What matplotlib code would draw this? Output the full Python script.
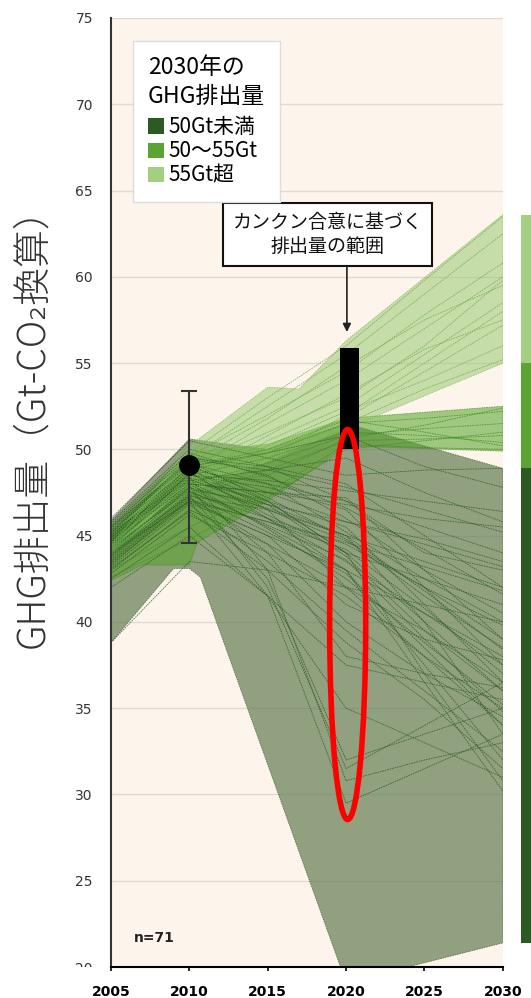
import matplotlib
matplotlib.use('Agg')
import matplotlib.pyplot as plt
from matplotlib.patches import Patch, Ellipse, Rectangle

plt.rcParams['font.family'] = ['Noto Sans CJK JP', 'DejaVu Sans']

# scenario years
years = [2005, 2010, 2015, 2020, 2025, 2030]

# scenarios with 2030 emissions below 50Gt
dark_lines = [
    [44.5, 48.0, 47.5, 46.8, 46.0, 45.5],
    [45.0, 48.5, 48.2, 47.6, 47.0, 46.4],
    [43.8, 47.5, 46.0, 44.5, 42.0, 39.8],
    [44.2, 47.8, 45.5, 43.0, 40.5, 38.0],
    [45.5, 49.2, 48.0, 45.2, 42.5, 40.0],
    [43.0, 46.5, 44.5, 42.0, 39.5, 36.5],
    [44.8, 48.8, 47.0, 44.0, 40.0, 36.0],
    [45.2, 49.5, 49.0, 48.0, 45.0, 42.0],
    [44.0, 47.0, 45.8, 44.6, 43.2, 41.8],
    [42.8, 46.2, 44.0, 41.5, 38.0, 35.0],
    [44.6, 48.3, 46.5, 44.7, 42.0, 39.0],
    [45.8, 50.0, 49.0, 47.0, 44.0, 43.0],
    [43.5, 47.2, 44.5, 40.0, 37.0, 34.5],
    [44.3, 48.6, 46.8, 45.0, 43.5, 42.0],
    [45.0, 49.0, 47.5, 45.8, 44.8, 43.5],
    [43.2, 46.8, 43.5, 39.5, 36.0, 32.5],
    [44.9, 48.1, 46.0, 43.5, 40.5, 37.5],
    [42.5, 45.5, 41.5, 37.5, 36.5, 35.5],
    [44.0, 47.6, 44.0, 38.0, 37.0, 36.2],
    [45.3, 48.9, 46.5, 42.0, 41.0, 40.0],
    [43.6, 47.3, 42.5, 32.0, 33.5, 35.0],
    [44.1, 47.9, 42.0, 31.5, 34.0, 36.5],
    [44.7, 48.4, 43.0, 30.8, 32.0, 33.0],
    [43.9, 47.0, 41.5, 29.5, 31.5, 33.5],
    [45.6, 49.6, 48.5, 46.0, 43.0, 40.5],
    [44.4, 48.2, 47.0, 45.5, 41.0, 36.5],
    [43.4, 46.9, 45.0, 43.0, 37.5, 32.0],
    [44.6, 48.7, 46.0, 43.0, 36.5, 30.2],
    [45.1, 49.4, 48.8, 47.8, 46.5, 45.2],
    [44.2, 47.7, 46.8, 45.8, 44.5, 43.2],
    [43.7, 47.4, 45.2, 42.8, 38.5, 34.0],
    [45.4, 49.1, 47.2, 44.8, 41.5, 38.5],
    [44.8, 48.5, 47.8, 46.5, 42.0, 37.5],
    [43.1, 46.4, 43.0, 38.8, 35.5, 31.5],
    [44.5, 48.0, 45.4, 42.5, 38.8, 35.2],
    [45.0, 48.8, 48.0, 47.0, 45.5, 44.0],
    [46.0, 50.5, 49.5, 48.5, 48.8, 48.9],
    [42.0, 45.0, 41.5, 35.0, 33.0, 31.0],
    [44.3, 47.6, 45.6, 43.6, 39.0, 34.8],
    [43.3, 47.1, 45.8, 44.2, 40.8, 37.0],
    [45.7, 49.8, 48.4, 46.6, 44.2, 41.6],
    [44.0, 48.0, 47.5, 47.2, 43.0, 39.0],
    [44.9, 48.6, 46.2, 44.0, 42.5, 41.0],
    [43.8, 47.8, 46.6, 45.0, 41.8, 38.4],
    [38.8, 43.5, 43.0, 42.0, 38.0, 34.0],
    [44.6, 49.0, 49.8, 50.8, 49.0, 47.8],
    [45.2, 48.2, 48.8, 49.5, 47.5, 45.8],
    [44.0, 47.3, 46.5, 45.0, 40.0, 33.5],
    [45.5, 49.3, 47.0, 44.0, 37.0, 30.8],
    [44.7, 48.4, 46.8, 43.8, 39.5, 36.0],
    [43.5, 47.0, 45.0, 41.0, 39.0, 37.8],
]

# scenarios with 2030 emissions of 50-55Gt
mid_lines = [
    [44.0, 48.0, 49.2, 50.8, 51.2, 51.5],
    [43.5, 47.2, 48.8, 50.5, 50.6, 50.8],
    [44.5, 48.8, 49.8, 51.5, 51.8, 52.2],
    [43.0, 45.5, 47.5, 50.3, 50.1, 50.0],
    [44.2, 48.5, 49.5, 51.0, 50.8, 50.4],
    [42.6, 44.8, 47.2, 50.0, 50.5, 51.0],
    [44.8, 49.0, 50.0, 51.7, 51.0, 50.2],
    [43.8, 47.8, 48.5, 50.6, 51.4, 52.4],
]

# scenarios with 2030 emissions above 55Gt
light_lines = [
    [44.5, 49.5, 52.5, 55.5, 59.0, 62.5],
    [44.2, 48.8, 51.5, 54.0, 57.0, 60.0],
    [44.0, 48.0, 50.5, 52.5, 55.5, 58.5],
    [44.3, 49.0, 51.0, 53.0, 56.0, 59.8],
    [44.1, 48.5, 50.0, 51.8, 54.5, 57.2],
    [44.4, 49.8, 53.0, 56.0, 59.8, 63.5],
    [44.2, 48.2, 49.8, 51.5, 53.5, 55.2],
    [44.0, 47.6, 49.5, 52.0, 55.0, 58.0],
    [44.3, 49.2, 51.8, 54.8, 57.5, 59.5],
    [44.1, 48.0, 50.2, 52.2, 54.0, 56.0],
    [44.5, 49.6, 52.0, 54.5, 57.8, 60.8],
    [44.2, 48.4, 50.8, 53.2, 55.8, 57.5],
]

# envelopes of each group (upper edge, lower edge)
dark_up_x = [2005, 2010, 2015, 2020, 2030]
dark_up_y = [45.9, 50.6, 50.0, 51.5, 48.9]
dark_lo_x = [2005, 2009, 2010, 2010.7, 2020, 2030]
dark_lo_y = [38.8, 43.1, 43.1, 42.6, 19.1, 21.4]

mid_up_x = [2005, 2010, 2015, 2020, 2030]
mid_up_y = [45.5, 49.8, 50.3, 51.8, 52.5]
mid_lo_x = [2005, 2007, 2010, 2010.5, 2015, 2020, 2030]
mid_lo_y = [42.4, 43.3, 43.3, 44.6, 47.0, 50.2, 49.9]

light_up_x = [2005, 2010, 2015, 2017, 2020, 2030]
light_up_y = [44.5, 50.2, 53.6, 53.5, 56.3, 63.6]
light_lo_x = [2005, 2010, 2015, 2020, 2030]
light_lo_y = [44.0, 47.5, 49.3, 51.2, 55.0]

# 2010 emissions with uncertainty
obs_year = 2010
obs_value = 49.1
obs_low = 44.6
obs_high = 53.4

# Cancun pledge range in 2020
cancun_year = 2020.2
cancun_low = 50.0
cancun_high = 55.9

# 2030 range of each group for the side bar
bar_lows = [21.4, 48.9, 55.0]
bar_highs = [48.9, 55.0, 63.6]

group_labels = ['50Gt未満', '50〜55Gt', '55Gt超']
group_colors = ['#2b5a22', '#5ba332', '#a2cf80']

fig = plt.figure(figsize=(5.31, 9.98), dpi=100)
ax = fig.add_axes([0.209, 0.031, 0.738, 0.951])
ax.set_facecolor('#fdf5eb')

ax.set_xlim(2005, 2030)
ax.set_ylim(20, 75)
ax.set_yticks(range(20, 80, 5))
ax.set_xticks(range(2005, 2035, 5))
ax.grid(axis='y', color='#dedad4', lw=1)
ax.set_axisbelow(True)


def envelope(up_x, up_y, lo_x, lo_y, color, alpha, edge):
    xs = list(up_x) + list(lo_x)[::-1]
    ys = list(up_y) + list(lo_y)[::-1]
    ax.fill(xs, ys, color=color, alpha=alpha, lw=0)
    ax.fill(xs, ys, fill=False, edgecolor=edge, lw=0.6, ls=(0, (2, 1)), alpha=0.7)


# dark group
envelope(dark_up_x, dark_up_y, dark_lo_x, dark_lo_y, '#647c52', 0.7, '#3b5a32')
for vals in dark_lines:
    ax.plot(years, vals, color='#2c5a26', lw=0.6, ls=(0, (2, 1)), alpha=0.8)

# mid group
envelope(mid_up_x, mid_up_y, mid_lo_x, mid_lo_y, '#55a228', 0.55, '#3f8a22')
for vals in mid_lines:
    ax.plot(years, vals, color='#3f8a22', lw=0.6, ls=(0, (2, 1)), alpha=0.8)

# light group
envelope(light_up_x, light_up_y, light_lo_x, light_lo_y, '#93c769', 0.5, '#7ab655')
for vals in light_lines:
    ax.plot(years, vals, color='#6aa84a', lw=0.6, ls=(0, (2, 1)), alpha=0.8)

# 2010 point with error bar
ax.errorbar([obs_year], [obs_value], yerr=[[obs_value - obs_low], [obs_high - obs_value]],
            fmt='o', color='black', ms=14, ecolor='#333333', elinewidth=1.5,
            capsize=5.5, capthick=1.5, zorder=6)

# Cancun range bar
ax.bar(cancun_year, cancun_high - cancun_low, bottom=cancun_low, width=1.2,
       color='black', zorder=5)

# red highlight
ax.add_patch(Ellipse((2020.1, 39.85), 2.3, 22.6, fill=False, edgecolor='#ff0000',
                     lw=4, zorder=7))

# label box and arrow
ax.text(2018.81, 62.45, 'カンクン合意に基づく\n排出量の範囲', ha='center', va='center',
        fontsize=13.7, linespacing=1.15, color='#111111', zorder=8,
        bbox=dict(boxstyle='square,pad=0.5', fc='white', ec='#111111', lw=1.5))
ax.annotate('', xy=(2020.05, 56.8), xytext=(2020.05, 60.57),
            arrowprops=dict(arrowstyle='-|>', color='#222222', lw=1.2,
                            mutation_scale=12, shrinkA=0, shrinkB=0), zorder=8)

ax.text(0.058, 0.026, 'n=71', transform=ax.transAxes, fontsize=10, fontweight='bold',
        color='#222222', family='DejaVu Sans')

# legend
handles = [Patch(facecolor=c, edgecolor='none') for c in group_colors]
leg = ax.legend(handles, group_labels, title='2030年の\nGHG排出量', loc='upper left',
                bbox_to_anchor=(0.056, 0.976), borderaxespad=0, fontsize=15,
                title_fontsize=16.5, alignment='left', frameon=True, fancybox=False,
                framealpha=1, edgecolor='#dddddd', handlelength=0.75,
                handleheight=0.75, handletextpad=0.25, labelspacing=0.1,
                borderpad=0.72)
leg.get_title().set_linespacing(1.35)
leg._legend_box.sep = 6
leg.set_zorder(9)

# axis styling
for side in ['top', 'right']:
    ax.spines[side].set_visible(False)
ax.spines['left'].set_color('#333333')
ax.spines['left'].set_linewidth(1.5)
ax.spines['bottom'].set_linewidth(1.5)
ax.tick_params(axis='y', length=0, pad=13, labelsize=10, labelcolor='#333333')
ax.tick_params(axis='x', length=3, width=1.2, pad=10, labelsize=10)
for lab in ax.get_xticklabels():
    lab.set_fontweight('bold')
    lab.set_family('DejaVu Sans')
for lab in ax.get_yticklabels():
    lab.set_family('DejaVu Sans')

fig.text(0.062, 0.581, 'GHG排出量（Gt-CO₂換算）', rotation=90, ha='center', va='center',
         fontsize=27.2, fontweight='light', color='#333333')

# side bar with 2030 ranges
bax = fig.add_axes([0.981, 0.031, 0.03, 0.951], sharey=ax)
bax.bar([0, 0, 0], [h - l for l, h in zip(bar_lows, bar_highs)], bottom=bar_lows,
        width=1, color=group_colors)
bax.set_xlim(-0.5, 0.5)
bax.axis('off')

# mask below the axis on the left
fig.patches.append(Rectangle((0, 0), 0.173, 0.031, transform=fig.transFigure,
                             facecolor='white', edgecolor='none', zorder=5))

fig.savefig('out.png', dpi=100)
